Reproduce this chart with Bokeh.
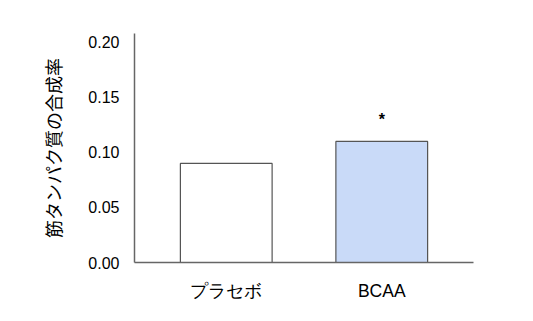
from bokeh.plotting import figure
from bokeh.models import ColumnDataSource, FactorRange, Range1d, FixedTicker
from bokeh.core.properties import value
from bokeh.embed import file_html
from bokeh.resources import INLINE

# Muscle protein synthesis rate by group
groups = ["プラセボ", "BCAA"]
rates = [0.09, 0.11]
fills = ["#ffffff", "#c9daf8"]
marks = ["", "*"]
y_ticks = [0.0, 0.05, 0.10, 0.15, 0.20]

src = ColumnDataSource(dict(group=groups, rate=rates, fill=fills, mark=marks))

p = figure(
    width=533, height=321,
    x_range=FactorRange(*groups, range_padding=0.09, range_padding_units="absolute"),
    y_range=Range1d(0, 0.208),
    output_backend="svg", toolbar_location=None,
    min_border_left=134, min_border_right=60, min_border_top=33, min_border_bottom=59,
)

p.vbar(x="group", top="rate", width=0.59, source=src,
       fill_color="fill", line_color="#555555", line_width=1.2)

p.text(x="group", y="rate", text="mark", source=src,
       y_offset=-22, text_align="center", text_baseline="middle",
       text_font=value("Liberation Sans"), text_font_size="16px",
       text_font_style="bold", text_color="#000000")

p.xgrid.visible = False
p.ygrid.visible = False
p.outline_line_color = None
p.background_fill_color = "#ffffff"
p.border_fill_color = "#ffffff"

p.yaxis.ticker = FixedTicker(ticks=y_ticks)
p.yaxis.major_label_overrides = {t: f"{t:.2f}" for t in y_ticks}
p.yaxis.axis_label = "筋タンパク質の合成率"
p.yaxis.axis_label_text_font = "Noto Sans CJK JP"
p.yaxis.axis_label_text_font_style = "normal"
p.yaxis.axis_label_text_font_size = "18px"
p.yaxis.axis_label_text_color = "#000000"
p.yaxis.axis_label_standoff = 19

for ax in (p.xaxis, p.yaxis):
    ax.axis_line_color = "#666666"
    ax.axis_line_width = 1.5
    ax.major_tick_line_color = None
    ax.minor_tick_line_color = None
    ax.major_label_text_font = "Liberation Sans"
    ax.major_label_text_font_size = "16px"
    ax.major_label_text_color = "#000000"

p.yaxis.major_label_standoff = 9
p.xaxis.major_label_standoff = 12
p.xaxis.major_label_text_font_size = "17.5px"

open("out.html", "w").write(file_html(p, INLINE))
